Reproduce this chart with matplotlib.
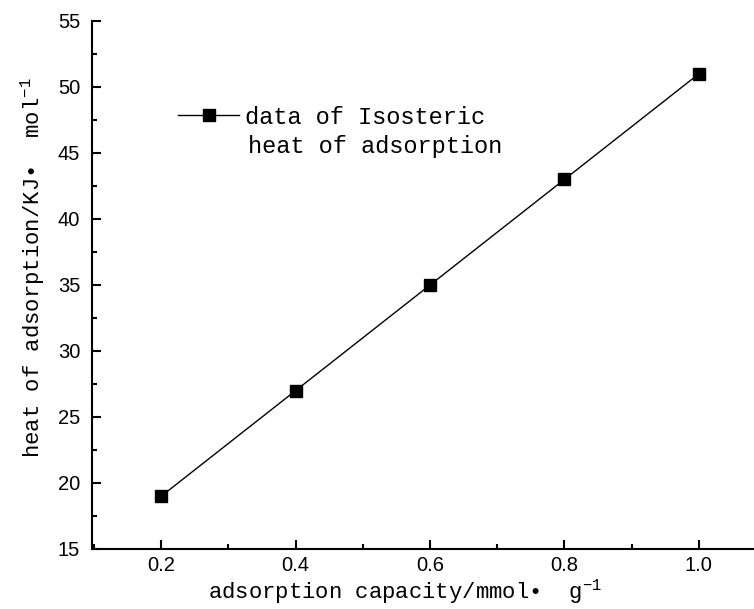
import matplotlib
matplotlib.use("Agg")
import matplotlib.pyplot as plt
from matplotlib.ticker import MultipleLocator

# data
capacity = [0.2, 0.4, 0.6, 0.8, 1.0]
heat = [19.0, 27.0, 35.0, 43.0, 51.0]

x_ticks = [0.2, 0.4, 0.6, 0.8, 1.0]
x_ticklabels = ["0.2", "0.4", "0.6", "0.8", "1.0"]
y_ticks = [15, 20, 25, 30, 35, 40, 45, 50, 55]

plt.rcParams["mathtext.fontset"] = "custom"
plt.rcParams["mathtext.rm"] = "Liberation Mono"
plt.rcParams["mathtext.it"] = "Liberation Mono"

W, H = 754, 609
fig = plt.figure(figsize=(W / 100, H / 100), dpi=100)
# axes box in pixels: left 92, top 21, bottom 549, runs off the right edge
ax = fig.add_axes([92 / W, 1 - 549 / H, 1 - 92 / W, (549 - 21) / H])

line, = ax.plot(capacity, heat, color="black", lw=1.0, marker="s", ms=8.7,
                mfc="black", mec="black")

ax.set_xlim(0.097, 1.082)
ax.set_ylim(15, 55)
ax.set_xticks(x_ticks)
ax.set_xticklabels(x_ticklabels)
ax.set_yticks(y_ticks)
ax.yaxis.set_minor_locator(MultipleLocator(2.5))
ax.xaxis.set_minor_locator(MultipleLocator(0.1))

for s in ["top", "right"]:
    ax.spines[s].set_visible(False)
for s in ["left", "bottom"]:
    ax.spines[s].set_linewidth(1.5)

ax.tick_params(which="major", direction="in", length=6.8, width=1.5,
               labelsize=14.5, labelfontfamily="Liberation Sans")
ax.tick_params(axis="x", which="major", pad=5)
ax.tick_params(axis="y", which="major", pad=8.5)
ax.tick_params(which="minor", direction="in", length=3.6, width=1.5)

mono = {"family": "Liberation Mono", "size": 16}
ax.set_xlabel(r"adsorption capacity/mmol•  g$^{-1}$", fontdict=mono)
ax.xaxis.set_label_coords((405 - 92) / 662, -(592 - 549) / 528)
ax.xaxis.label.set_va("center")
ax.set_ylabel(r"heat of adsorption/KJ•  mol$^{-1}$", fontdict=mono)
ax.yaxis.set_label_coords((33 - 92) / 662, (549 - 268) / 528)
ax.yaxis.label.set_va("center")

leg = ax.legend([line], ["data of Isosteric"], loc="center left",
                bbox_to_anchor=((178 - 92) / 662, (549 - 117) / 528),
                frameon=False, borderpad=0, borderaxespad=0,
                prop={"family": "Liberation Mono", "size": 17},
                handlelength=2.6, handletextpad=0.25)
ax.text((248 - 92) / 662, (549 - 146) / 528, "heat of adsorption",
        transform=ax.transAxes, ha="left", va="center",
        family="Liberation Mono", size=17)

fig.savefig("out.png", dpi=100)
